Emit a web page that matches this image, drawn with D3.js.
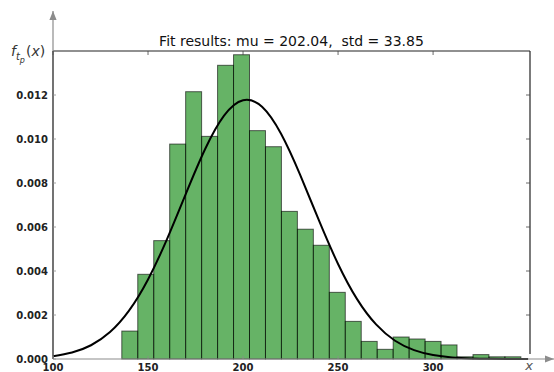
<!DOCTYPE html>
<html>
<head>
<meta charset="utf-8">
<script src="https://cdn.jsdelivr.net/npm/d3@7"></script>
<style>
  html, body { margin: 0; padding: 0; background: #fff; }
  svg { display: block; }
  text { font-family: "DejaVu Sans", sans-serif; }
</style>
</head>
<body>
<svg id="chart" width="554" height="372"></svg>
<script>
// ---- data ----
const binStart = 136.2;
const binWidth = 8.4;
const densities = [0.00127, 0.00385, 0.00538, 0.00977, 0.01215, 0.01012, 0.01335, 0.01383,
  0.01038, 0.00965, 0.00671, 0.00590, 0.00517, 0.00303, 0.00171, 0.00080, 0.00044,
  0.00100, 0.00091, 0.00080, 0.00064, 0.00010, 0.00020, 0.00010, 0.00010];
const fitX = [100, 110, 120, 130, 140, 150, 160, 170, 180, 190, 200, 210, 220, 230, 240,
  250, 260, 270, 280, 290, 300, 310, 320, 330, 340, 350];
const fitY = [0.000125, 0.000292, 0.000625, 0.001224, 0.002197, 0.003615, 0.005450, 0.007530,
  0.009535, 0.011063, 0.011765, 0.011465, 0.010238, 0.008380, 0.006285, 0.004320,
  0.002721, 0.001571, 0.000831, 0.000403, 0.000179, 0.000073, 0.000027, 0.0000093, 0.0000029, 0.0000008];
const xTicks = [100, 150, 200, 250, 300];
const yTicks = [0.000, 0.002, 0.004, 0.006, 0.008, 0.010, 0.012];
const titleText = "Fit results: mu = 202.04,  std = 33.85";

// ---- drawing ----
const svg = d3.select("#chart");
const x = d3.scaleLinear().domain([100, 351]).range([53, 530]);
const y = d3.scaleLinear().domain([0, 0.014]).range([359, 51]);

const bins = densities.map((d, i) => ({ x0: binStart + i * binWidth, x1: binStart + (i + 1) * binWidth, v: d }));

// bars
svg.append("g").selectAll("rect").data(bins).join("rect")
  .attr("x", d => x(d.x0))
  .attr("y", d => y(d.v))
  .attr("width", d => x(d.x1) - x(d.x0))
  .attr("height", d => y(0) - y(d.v))
  .attr("fill", "#008000").attr("fill-opacity", 0.6)
  .attr("stroke", "#000").attr("stroke-opacity", 0.6).attr("stroke-width", 1);

// fit curve
const line = d3.line().x((d, i) => x(fitX[i])).y(d => y(d)).curve(d3.curveNatural);
svg.append("path").datum(fitY).attr("d", line)
  .attr("fill", "none").attr("stroke", "#000").attr("stroke-width", 2);

// frame: top and right spines
const gray = "#8c8c8c";
svg.append("line").attr("x1", x(100)).attr("x2", x(351)).attr("y1", y(0.014)).attr("y2", y(0.014))
  .attr("stroke", "#222").attr("stroke-width", 1.2);
svg.append("line").attr("x1", x(351)).attr("x2", x(351)).attr("y1", y(0.014)).attr("y2", y(0) - 5)
  .attr("stroke", "#222").attr("stroke-width", 1.2);

// top ticks (inward)
svg.append("g").selectAll("line").data(xTicks).join("line")
  .attr("x1", d => x(d)).attr("x2", d => x(d)).attr("y1", y(0.014)).attr("y2", y(0.014) + 4)
  .attr("stroke", "#444").attr("stroke-width", 0.8);
// right ticks (inward)
svg.append("g").selectAll("line").data(yTicks.slice(1)).join("line")
  .attr("x1", x(351)).attr("x2", x(351) - 4).attr("y1", d => y(d)).attr("y2", d => y(d))
  .attr("stroke", "#444").attr("stroke-width", 0.8);

// arrow axes (gray)
const defs = svg.append("defs");
defs.append("marker").attr("id", "arr").attr("viewBox", "0 0 10 10").attr("refX", 10).attr("refY", 5)
  .attr("markerWidth", 9).attr("markerHeight", 9).attr("markerUnits", "userSpaceOnUse").attr("orient", "auto")
  .append("path").attr("d", "M0,1 L10,5 L0,9 Z").attr("fill", gray);

svg.append("line").attr("x1", x(100)).attr("x2", 554).attr("y1", y(0)).attr("y2", y(0))
  .attr("stroke", gray).attr("stroke-width", 1.2).attr("marker-end", "url(#arr)");
svg.append("line").attr("x1", x(100)).attr("x2", x(100)).attr("y1", y(0)).attr("y2", 11)
  .attr("stroke", gray).attr("stroke-width", 1.2).attr("marker-end", "url(#arr)");
// left spine (dark)
svg.append("line").attr("x1", x(100)).attr("x2", x(100)).attr("y1", y(0)).attr("y2", y(0.014))
  .attr("stroke", "#444").attr("stroke-width", 1.2);

// y axis tick marks and labels
const yAxis = svg.append("g");
yAxis.selectAll("line").data(yTicks).join("line")
  .attr("x1", x(100)).attr("x2", x(100) + 3).attr("y1", d => y(d)).attr("y2", d => y(d))
  .attr("stroke", gray).attr("stroke-width", 0.8);
yAxis.selectAll("text").data(yTicks).join("text")
  .attr("x", x(100) - 5).attr("y", d => y(d)).attr("dy", "0.35em")
  .attr("text-anchor", "end").attr("font-size", 10).attr("font-weight", "bold").attr("fill", "#222")
  .text(d => d3.format(".3f")(d));

// x axis tick marks and labels
const xAxis = svg.append("g");
xAxis.selectAll("line").data(xTicks).join("line")
  .attr("x1", d => x(d)).attr("x2", d => x(d)).attr("y1", y(0)).attr("y2", y(0) - 3)
  .attr("stroke", gray).attr("stroke-width", 0.8);
xAxis.selectAll("text").data(xTicks).join("text")
  .attr("x", d => x(d)).attr("y", 371)
  .attr("text-anchor", "middle").attr("font-size", 10).attr("font-weight", "bold").attr("fill", "#222")
  .text(d => d);

// title
svg.append("text").attr("x", (x(100) + x(351)) / 2).attr("y", 46)
  .attr("text-anchor", "middle").attr("font-size", 14).attr("fill", "#111")
  .style("white-space", "pre")
  .text(titleText);

// y label f_{t_p}(x)
const yl = svg.append("text").attr("x", 11).attr("y", 56)
  .attr("font-family", "'DejaVu Serif', serif").attr("font-style", "italic").attr("font-size", 14).attr("fill", "#333");
yl.append("tspan").text("f");
yl.append("tspan").attr("font-size", 10).attr("dy", 4).text("t");
yl.append("tspan").attr("font-size", 8).attr("dy", 3).text("p");
yl.append("tspan").attr("dy", -7).attr("dx", 1).attr("font-style", "normal").text("(");
yl.append("tspan").text("x");
yl.append("tspan").attr("font-style", "normal").text(")");

// x label
svg.append("text").attr("x", 529).attr("y", 370).attr("text-anchor", "middle")
  .attr("font-family", "'DejaVu Serif', serif").attr("font-style", "italic").attr("font-size", 13).attr("fill", "#555")
  .text("x");
</script>
</body>
</html>
